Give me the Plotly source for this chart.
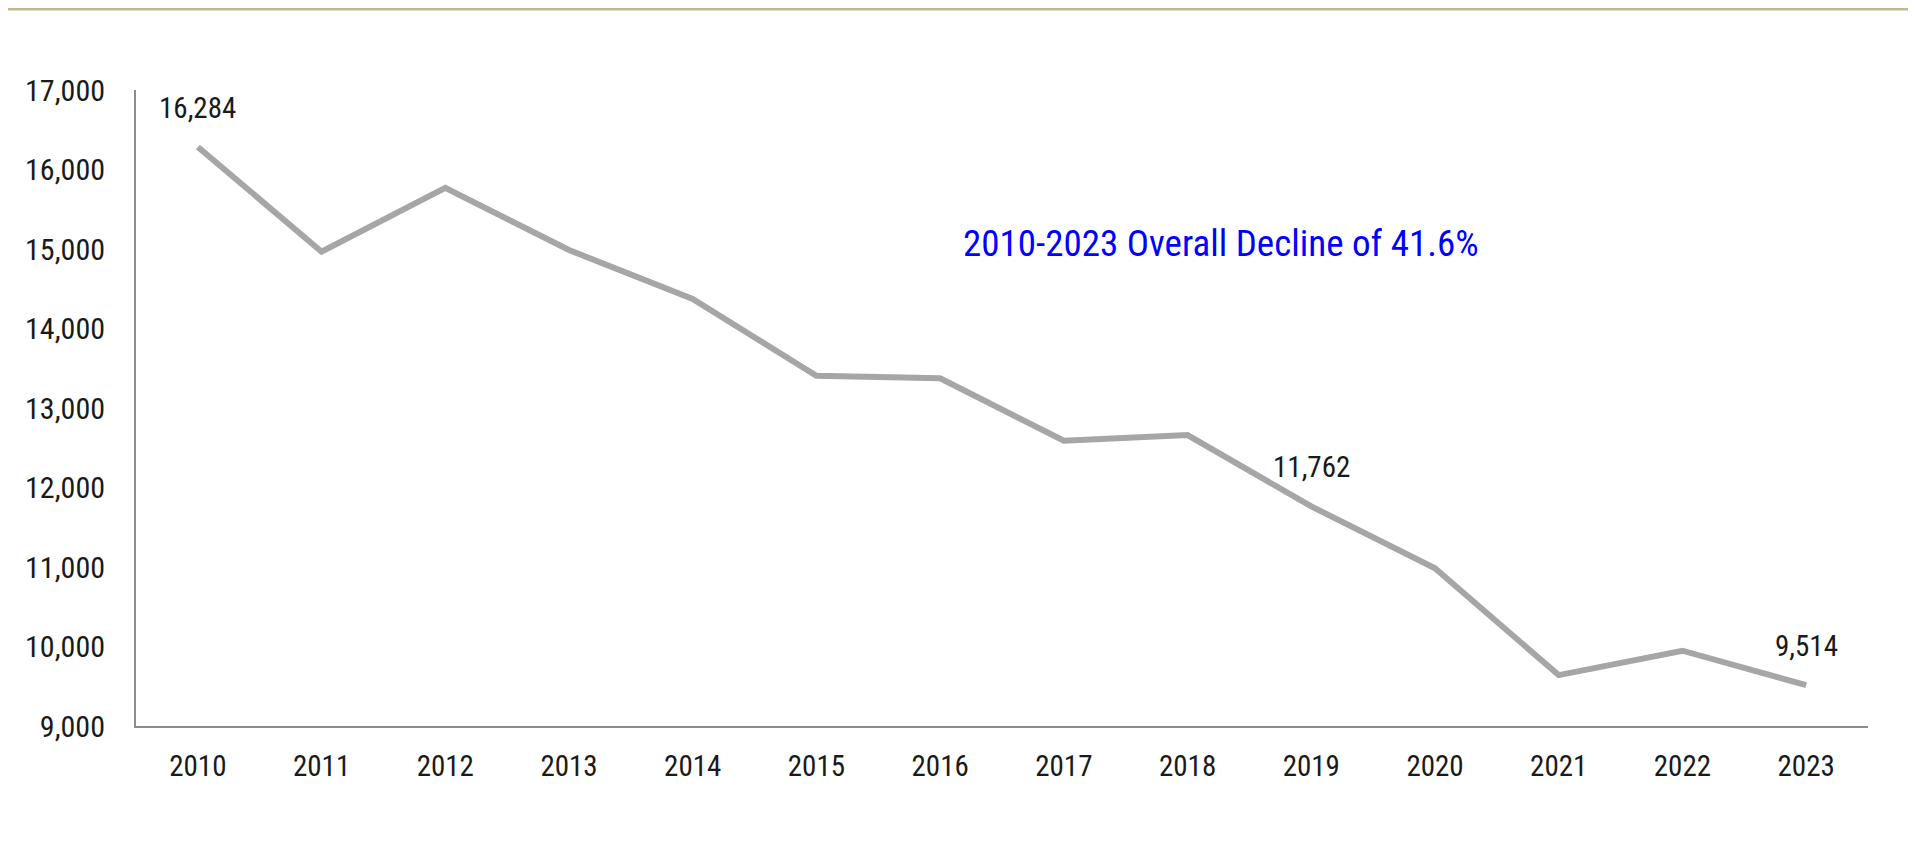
import plotly.graph_objects as go

years = ["2010", "2011", "2012", "2013", "2014", "2015", "2016",
         "2017", "2018", "2019", "2020", "2021", "2022", "2023"]
values = [16284, 14966, 15770, 14987, 14371, 13406, 13373,
          12589, 12660, 11762, 10983, 9640, 9947, 9514]
labeled_years = ["2010", "2019", "2023"]
y_ticks = [9000, 10000, 11000, 12000, 13000, 14000, 15000, 16000, 17000]
note_text = "2010-2023 Overall Decline of 41.6%"

FONT = "Liberation Sans Narrow, Roboto Condensed, Arial Narrow, Roboto, sans-serif"

fig = go.Figure()
fig.add_trace(go.Scatter(
    x=years, y=values, mode="lines",
    line=dict(color="#A6A6A6", width=6),
    hoverinfo="skip", showlegend=False,
))

for yr in labeled_years:
    i = years.index(yr)
    v = values[i]
    fig.add_annotation(
        x=i, y=v, xref="x", yref="y", text=f"{v:,}",
        showarrow=False, yshift=39,
        font=dict(family=FONT, size=29, color="#1a1a1a"),
    )

fig.add_annotation(
    x=0.6265, y=0.759, xref="paper", yref="paper", text=note_text,
    showarrow=False, xanchor="center", yanchor="middle",
    font=dict(family=FONT, size=37, color="#0000FF"),
)

# thin gold rule along the top edge
fig.add_shape(type="line", xref="paper", yref="paper",
              x0=-0.2, x1=1.2, y0=1 + 82 / 636, y1=1 + 82 / 636,
              line=dict(color="#C2B88E", width=5))

fig.update_layout(
    width=1900, height=826,
    margin=dict(l=128, r=40, t=82, b=108),
    paper_bgcolor="white", plot_bgcolor="white",
    font=dict(family=FONT, size=29, color="#1a1a1a"),
    xaxis=dict(
        type="category", range=[-0.5, 13.5],
        showgrid=False, zeroline=False,
        showline=True, linecolor="#8C8C8C", linewidth=2,
        ticks="outside", ticklen=13, tickcolor="rgba(0,0,0,0)",
        tickfont=dict(family=FONT, size=29, color="#1a1a1a"),
    ),
    yaxis=dict(
        range=[9000, 17000], tickvals=y_ticks,
        tickformat=",d",
        showgrid=False, zeroline=False,
        showline=True, linecolor="#8C8C8C", linewidth=2,
        ticks="outside", ticklen=23, tickcolor="rgba(0,0,0,0)",
        tickfont=dict(family=FONT, size=30, color="#1a1a1a"),
    ),
)

fig.write_html("out.html")
